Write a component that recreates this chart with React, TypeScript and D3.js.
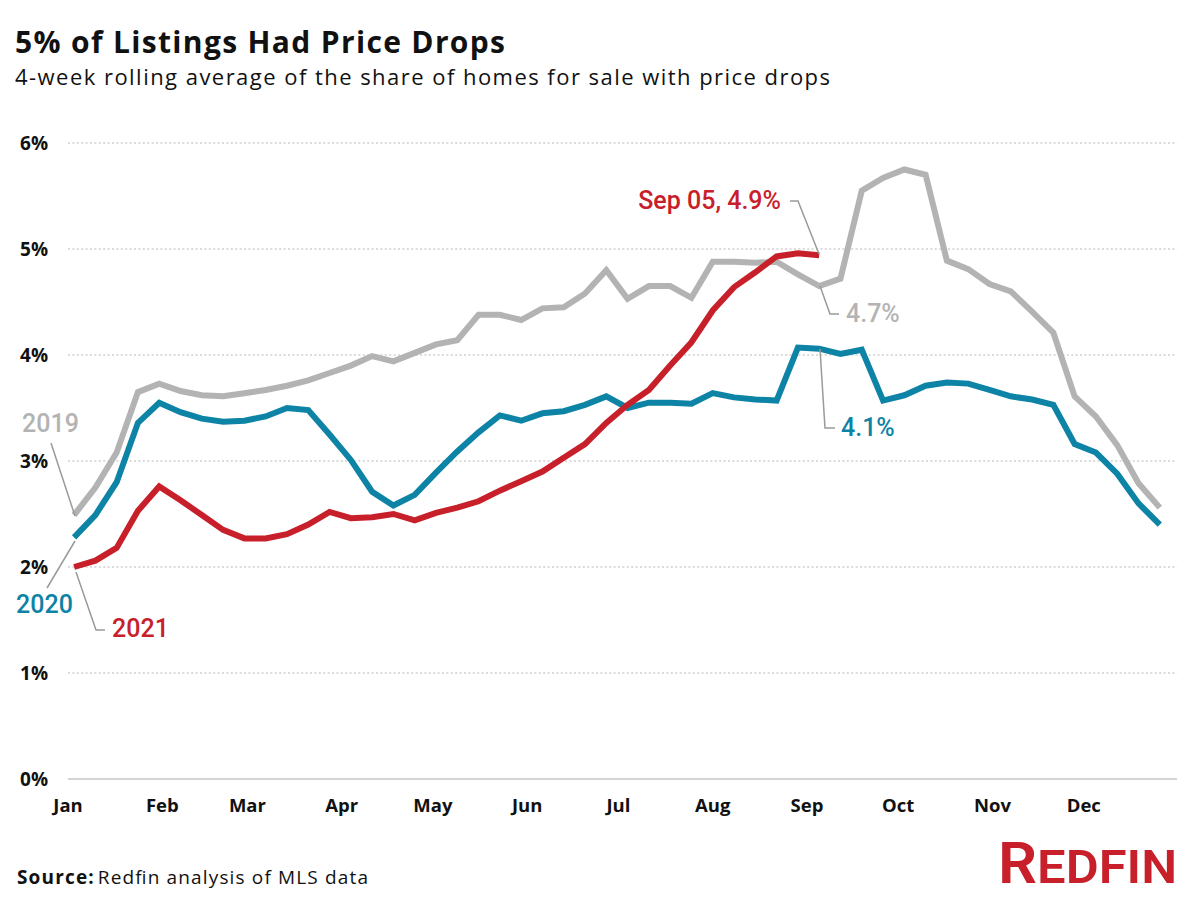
import React from "react";
import * as d3 from "d3";

const monthLabels = ["Jan", "Feb", "Mar", "Apr", "May", "Jun", "Jul", "Aug", "Sep", "Oct", "Nov", "Dec"];
const yTicks = [0, 1, 2, 3, 4, 5, 6];

const values2019 = [
  2.49, 2.75, 3.08, 3.65, 3.73, 3.66, 3.62, 3.61, 3.64, 3.67, 3.71, 3.76, 3.83,
  3.90, 3.99, 3.94, 4.02, 4.10, 4.14, 4.38, 4.38, 4.33, 4.44, 4.45, 4.58, 4.80,
  4.53, 4.65, 4.65, 4.54, 4.88, 4.88, 4.87, 4.88, 4.76, 4.65, 4.72, 5.55, 5.67,
  5.75, 5.70, 4.89, 4.81, 4.67, 4.60, 4.41, 4.21, 3.61, 3.42, 3.15, 2.79, 2.56,
];
const values2020 = [
  2.28, 2.49, 2.80, 3.36, 3.55, 3.46, 3.40, 3.37, 3.38, 3.42, 3.50, 3.48, 3.25,
  3.01, 2.71, 2.58, 2.68, 2.89, 3.09, 3.27, 3.43, 3.38, 3.45, 3.47, 3.53, 3.61,
  3.50, 3.55, 3.55, 3.54, 3.64, 3.60, 3.58, 3.57, 4.07, 4.06, 4.01, 4.05, 3.57,
  3.62, 3.71, 3.74, 3.73, 3.67, 3.61, 3.58, 3.53, 3.16, 3.08, 2.88, 2.60, 2.40,
];
const values2021 = [
  2.00, 2.06, 2.18, 2.53, 2.76, 2.63, 2.49, 2.35, 2.27, 2.27, 2.31, 2.40, 2.52,
  2.46, 2.47, 2.50, 2.44, 2.51, 2.56, 2.62, 2.72, 2.81, 2.90, 3.03, 3.16, 3.36,
  3.53, 3.67, 3.90, 4.12, 4.42, 4.64, 4.78, 4.93, 4.96, 4.94,
];

const GRAY = "#b3b3b3";
const BLUE = "#0d83a5";
const RED = "#c8202a";
const LEAD = "#9a9a9a";
const FONT = "'Open Sans', Roboto, sans-serif";
const ANNO_FONT = "Roboto, 'Open Sans', sans-serif";

const firstWeek = new Date(2021, 0, 3);
const weekDate = (i: number) => d3.timeDay.offset(firstWeek, 7 * i);

export default function App() {
  const x = d3.scaleTime().domain([new Date(2021, 0, 1), new Date(2021, 11, 31)]).range([68, 1175]);
  const y = d3.scaleLinear().domain([0, 6]).range([779, 143]);
  const line = d3
    .line<number>()
    .x((_, i) => x(weekDate(i)))
    .y((v) => y(v));

  const series = [
    { vals: values2019, color: GRAY },
    { vals: values2020, color: BLUE },
    { vals: values2021, color: RED },
  ];

  return (
    <svg
      width={1200}
      height={900}
      style={{ position: "absolute", left: 0, top: 0, background: "#fff" }}
      fontFamily={FONT}
    >
      <rect width={1200} height={900} fill="#fff" />
      <text x={15} y={53} fontSize={30} fontWeight={700} fill="#111" textLength={490} lengthAdjust="spacing">
        5% of Listings Had Price Drops
      </text>
      <text x={15} y={85} fontSize={22} fill="#111" textLength={815} lengthAdjust="spacing">
        4-week rolling average of the share of homes for sale with price drops
      </text>

      {yTicks.map((t) => (
        <g key={t}>
          <line
            x1={68}
            x2={1177}
            y1={y(t)}
            y2={y(t)}
            stroke={t === 0 ? "#d4d4d4" : "#cfcfcf"}
            strokeWidth={t === 0 ? 2 : 1.5}
            strokeDasharray={t === 0 ? undefined : "2 2.4"}
          />
          <text x={48} y={y(t)} dy="0.36em" textAnchor="end" fontSize={19} fontWeight={700} fill="#111">
            {t}%
          </text>
        </g>
      ))}

      {monthLabels.map((m, i) => (
        <text key={m} x={x(new Date(2021, i, 1))} y={812} textAnchor="middle" fontSize={18.5} fontWeight={700} fill="#111">
          {m}
        </text>
      ))}

      {series.map((s, k) => (
        <path key={k} d={line(s.vals) || ""} fill="none" stroke={s.color} strokeWidth={6} />
      ))}

      {/* annotations */}
      <g fill="none" stroke={LEAD} strokeWidth={1.5}>
        <polyline points="51,443 75,516" />
        <polyline points="47,588 75,541" />
        <polyline points="76,572 96,630 105,630" />
        <polyline points="790,201 798,201 819,254" />
        <polyline points="820,286 830,314 839,314" />
        <polyline points="820,349 825,428 835,428" />
      </g>
      <g fontSize={25} fontWeight={500} fontFamily={ANNO_FONT}>
        <text x={22} y={432} fill={GRAY}>2019</text>
        <text x={16} y={613} fill={BLUE}>2020</text>
        <text x={112} y={637} fill={RED}>2021</text>
        <text x={781} y={209} textAnchor="end" fill={RED}>Sep 05, 4.9%</text>
        <text x={846} y={322} fill={GRAY}>4.7%</text>
        <text x={841} y={436} fill={BLUE}>4.1%</text>
      </g>

      <text x={17} y={884} fontSize={19} fill="#111" textLength={351} lengthAdjust="spacing">
        <tspan fontWeight={700}>Source:</tspan>
        <tspan dx={3}>Redfin analysis of MLS data</tspan>
      </text>

      <text
        x={998}
        y={883}
        fill={RED}
        fontWeight={600}
        fontFamily="Roboto, sans-serif"
        textLength={179}
        lengthAdjust="spacingAndGlyphs"
      >
        <tspan fontSize={57}>R</tspan>
        <tspan fontSize={47}>EDFIN</tspan>
      </text>
    </svg>
  );
}
